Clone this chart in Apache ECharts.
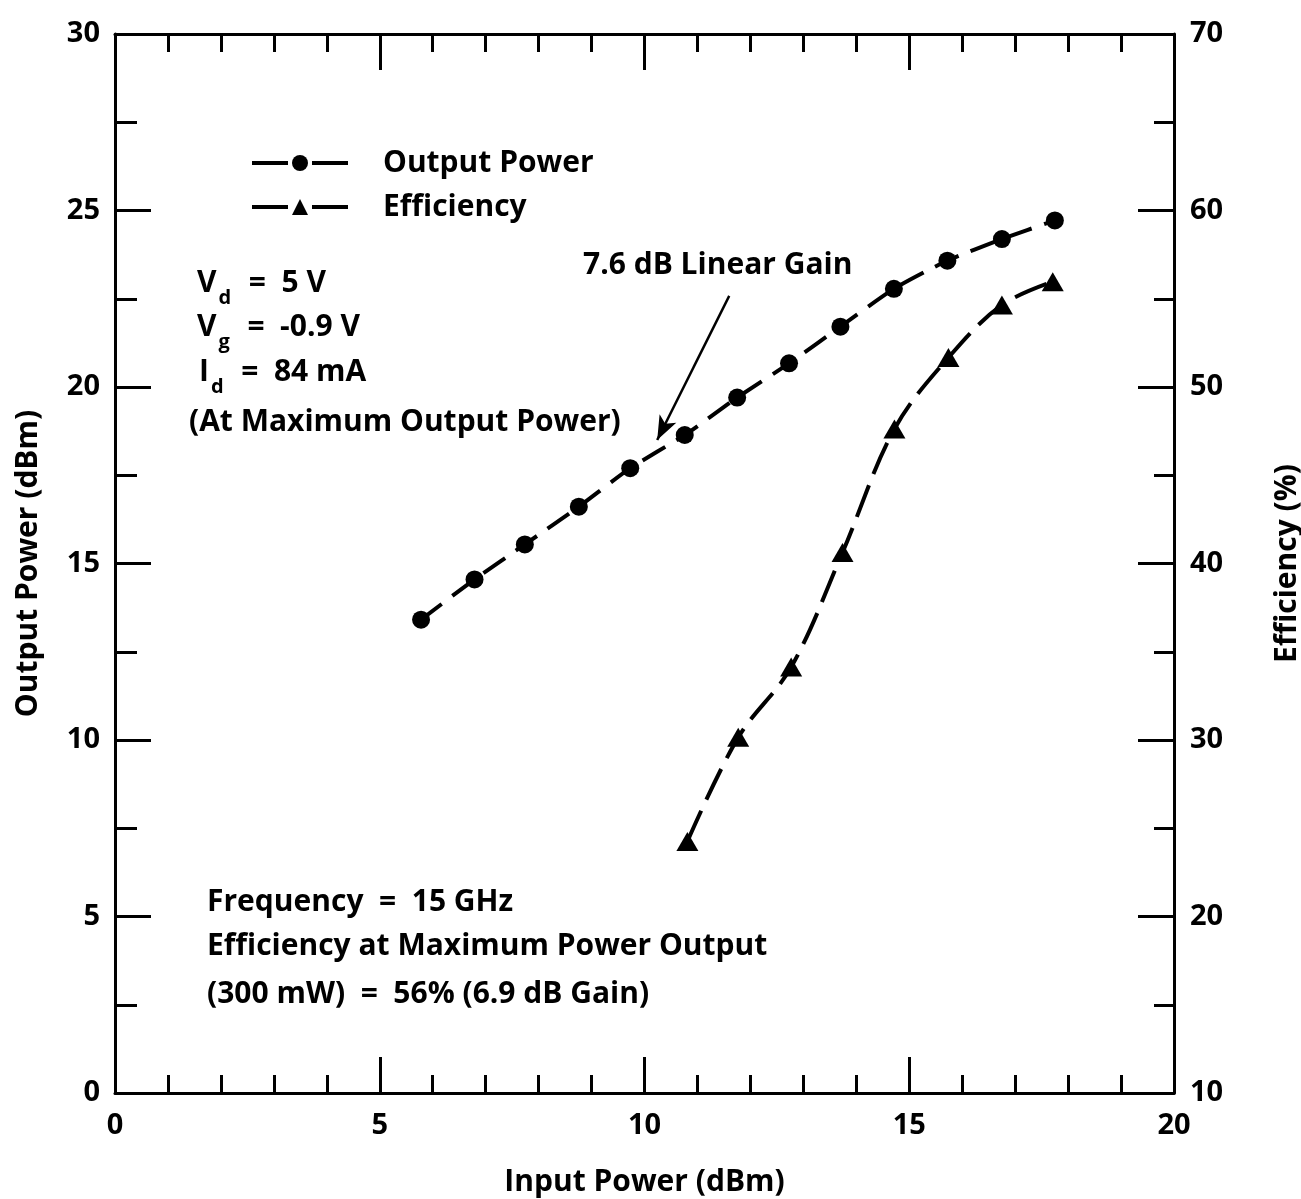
<!DOCTYPE html>
<html>
<head>
<meta charset="utf-8">
<title>Output Power and Efficiency vs Input Power</title>
<script src="https://cdn.jsdelivr.net/npm/echarts@6/dist/echarts.min.js"></script>
<style>
  html, body { margin: 0; padding: 0; background: #fff; }
  #chart { width: 1301px; height: 1199px; }
</style>
</head>
<body>
<div id="chart"></div>
<script>
// data
const inputPower = [5.78, 6.79, 7.74, 8.76, 9.73, 10.76, 11.75, 12.73, 13.70, 14.71, 15.72, 16.75, 17.75];
const outputPower = [13.41, 14.55, 15.54, 16.61, 17.70, 18.64, 19.70, 20.67, 21.71, 22.78, 23.58, 24.19, 24.72];
const effInput = [10.81, 11.77, 12.77, 13.74, 14.72, 15.74, 16.75, 17.71];
const efficiency = [24.25, 30.15, 34.13, 40.63, 47.62, 51.67, 54.65, 55.97];

const seriesNames = ['Output Power', 'Efficiency'];
// arrow of the "7.6 dB Linear Gain" note, in data units
const gainArrow = [[11.6, 22.58], [10.24, 18.5]];

const FONT = '"Open Sans", "DejaVu Sans", sans-serif';
const bold = (size) => `bold ${size}px ${FONT}`;

const pairs = (xs, ys) => xs.map((x, i) => [x, ys[i]]);

const chart = echarts.init(document.getElementById('chart'));

const axisLine = { show: true, onZero: false, lineStyle: { color: '#000', width: 3 } };
const tickStyle = { color: '#000', width: 3 };
const labelStyle = { color: '#000', fontFamily: FONT, fontWeight: 'bold', fontSize: 29 };
const nameStyle = { color: '#000', fontFamily: FONT, fontWeight: 'bold', fontSize: 30 };

// annotation texts
const notes = [
    { text: 'V{sub|d}  =  5 V', x: 197, y: 283 },
    { text: 'V{sub|g}  =  -0.9 V', x: 197, y: 327 },
    { text: 'I{sub|d}  =  84 mA', x: 199, y: 372 },
    { text: '(At Maximum Output Power)', x: 189, y: 422 },
    { text: '7.6 dB Linear Gain', x: 583, y: 265 },
    { text: 'Frequency  =  15 GHz', x: 207, y: 902 },
    { text: 'Efficiency at Maximum Power Output', x: 207, y: 946 },
    { text: '(300 mW)  =  56% (6.9 dB Gain)', x: 207, y: 994 }
];

const option = {
    backgroundColor: '#fff',
    animation: false,
    grid: { left: 115, right: 127, top: 34, bottom: 106, containLabel: false, outerBoundsMode: 'none' },
    legend: {
        data: seriesNames,
        orient: 'vertical',
        left: 250,
        top: 148,
        itemWidth: 96,
        itemHeight: 20,
        itemGap: 14,
        padding: 0,
        lineStyle: { type: [36, 24], width: 4 },
        textStyle: { color: '#000', fontFamily: FONT, fontWeight: 'bold', fontSize: 30, padding: [0, 0, 0, 30] }
    },
    xAxis: [
        {
            type: 'value', min: 0, max: 20, interval: 5,
            name: 'Input Power (dBm)', nameLocation: 'middle', nameGap: 74,
            nameTextStyle: nameStyle,
            axisLine: axisLine,
            axisTick: { inside: true, length: 36, lineStyle: tickStyle },
            minorTick: { show: true, splitNumber: 5, length: 18, lineStyle: tickStyle },
            axisLabel: Object.assign({ margin: 18 }, labelStyle),
            splitLine: { show: false }
        },
        {
            type: 'value', min: 0, max: 20, interval: 5, position: 'top',
            axisLine: axisLine,
            axisTick: { inside: true, length: 36, lineStyle: tickStyle },
            minorTick: { show: true, splitNumber: 5, length: 18, lineStyle: tickStyle },
            axisLabel: { show: false },
            splitLine: { show: false }
        }
    ],
    yAxis: [
        {
            type: 'value', min: 0, max: 30, interval: 5,
            name: 'Output Power (dBm)', nameLocation: 'middle', nameGap: 72, nameRotate: 90,
            nameTextStyle: nameStyle,
            axisLine: axisLine,
            axisTick: { inside: true, length: 36, lineStyle: tickStyle },
            minorTick: { show: true, splitNumber: 2, length: 22, lineStyle: tickStyle },
            axisLabel: Object.assign({ margin: 15 }, labelStyle),
            splitLine: { show: false }
        },
        {
            type: 'value', min: 10, max: 70, interval: 10, position: 'right',
            name: 'Efficiency (%)', nameLocation: 'middle', nameGap: 98, nameRotate: 90,
            nameTextStyle: nameStyle,
            axisLine: axisLine,
            axisTick: { inside: true, length: 36, lineStyle: tickStyle },
            minorTick: { show: true, splitNumber: 2, length: 20, lineStyle: tickStyle },
            axisLabel: Object.assign({ margin: 16 }, labelStyle),
            splitLine: { show: false }
        }
    ],
    series: [
        {
            name: seriesNames[0],
            type: 'line',
            data: pairs(inputPower, outputPower),
            smooth: 0.2,
            symbol: 'circle',
            symbolSize: 18,
            itemStyle: { color: '#000' },
            lineStyle: { color: '#000', width: 4, type: [26, 13] },
            markLine: {
                silent: true,
                symbol: ['none', 'arrow'],
                symbolSize: [14, 24],
                label: { show: false },
                lineStyle: { color: '#000', width: 2.5, type: 'solid' },
                data: [[{ coord: gainArrow[0] }, { coord: gainArrow[1] }]]
            }
        },
        {
            name: seriesNames[1],
            type: 'line',
            yAxisIndex: 1,
            data: pairs(effInput, efficiency),
            smooth: 0.35,
            symbol: 'triangle',
            symbolSize: [22, 19],
            itemStyle: { color: '#000' },
            lineStyle: { color: '#000', width: 4, type: [34, 12] }
        }
    ],
    graphic: notes.map(n => ({
        type: 'text',
        x: n.x,
        y: n.y,
        style: {
            text: n.text,
            fill: '#000',
            font: bold(30),
            verticalAlign: 'middle',
            rich: {
                sub: { fontSize: 20, fontWeight: 'bold', fontFamily: FONT, padding: [30, 2, 0, 2] }
            }
        }
    }))
};

chart.setOption(option);
</script>
</body>
</html>
